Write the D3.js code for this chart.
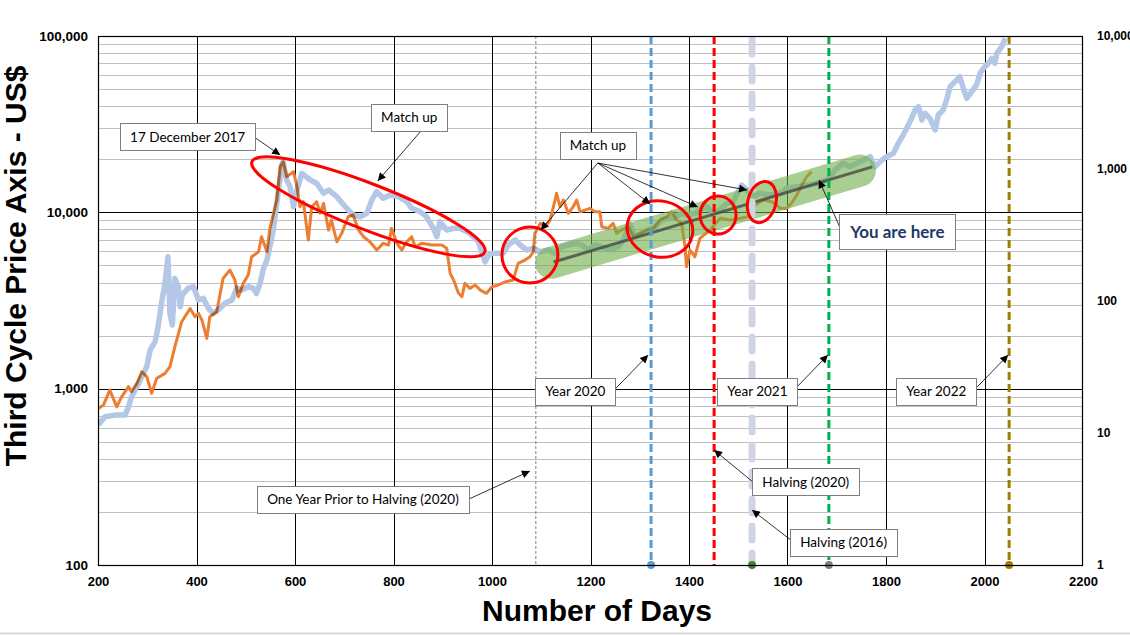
<!DOCTYPE html>
<html><head><meta charset="utf-8">
<script src="https://cdn.jsdelivr.net/npm/d3@7"></script>
<style>body{margin:0;background:#fff;overflow:hidden}</style>
</head><body><svg id="c" width="1130" height="635"></svg>
<script>
// ---------------- DATA ----------------
const xTickValues = [200,400,600,800,1000,1200,1400,1600,1800,2000,2200];
const leftTickValues = [100,1000,10000,100000];
const rightTickValues = [1,10,100,1000,10000];

// Third cycle (left axis, US$)
const thirdCycleDays = [201,211,224,238,248,262,268,279,289,299,309,319,336,346,356,370,387,397,404,411,421,427,441,454,468,478,485,495,505,512,526,532,543,549,563,570,576,583,597,604,610,617,627,634,644,651,658,668,674,685,695,708,718,729,739,752,766,779,790,796,807,817,827,837,844,857,878,898,908,915,922,932,939,945,955,966,976,989,1000,1013,1026,1043,1053,1067,1077,1084,1087,1098,1108,1118,1128,1131,1138,1145,1155,1165,1172,1179,1189,1199,1209,1219,1223,1236,1246,1253,1263,1277,1287,1301,1314,1328,1341,1355,1365,1375,1385,1392,1395,1402,1412,1422,1443,1463,1483,1504,1520,1534,1551,1568,1578,1585,1598,1608,1619,1629,1639,1649];
const thirdCyclePrices = [773,807,982,789,899,1026,960,1072,1247,1168,940,1143,1221,1331,1728,2397,2851,2557,2673,2449,1929,2557,2730,4223,4707,4130,3321,3955,4407,5600,5979,7274,5979,8110,11740,18140,19360,15920,16990,13970,10760,11490,6960,10760,11490,9870,11250,7940,9040,6810,7600,9440,9660,7940,7274,6810,6110,6670,6530,8110,6670,6110,6810,7274,6380,6670,6530,6530,6250,4510,4130,3474,3321,3955,3706,3871,3624,3474,3784,3871,4027,4130,5140,5360,5600,5979,7600,8660,8290,9040,11740,12820,10760,11740,9870,10760,11740,10070,10300,10530,10070,10070,8290,8110,8660,7600,7940,8290,7274,7600,7940,8110,9040,9440,10070,9040,8660,6380,4910,6110,5600,7120,7940,9250,9040,9250,9440,11000,11740,11490,11000,10530,10530,11250,12530,14290,15920,16990];

// Second cycle (right axis, US$)
const secondCycleDays = [201,214,235,255,262,268,279,289,299,306,316,322,329,336,342,346,351,356,363,367,371,383,394,404,414,424,434,444,458,472,482,492,505,515,522,529,536,543,549,556,563,570,573,576,583,590,597,604,614,631,644,658,668,685,702,718,732,746,756,766,779,793,810,827,837,854,867,881,888,894,908,922,935,955,972,986,993,1003,1023,1033,1047,1057,1071,1084,1098,1114,1128,1142,1155,1169,1182,1196,1209,1223,1240,1257,1267,1280,1290,1304,1317,1331,1345,1358,1372,1385,1399,1412,1422,1436,1449,1463,1477,1490,1500,1507,1517,1531,1544,1565,1585,1598,1619,1639,1659,1680,1700,1713,1727,1741,1754,1768,1778,1788,1801,1815,1825,1835,1842,1852,1859,1866,1873,1879,1889,1900,1906,1916,1923,1930,1940,1950,1957,1964,1974,1984,1991,1998,2008,2015,2021,2025,2035,2042];
const secondCyclePrices = [11.5,13.2,13.6,13.6,15.7,18.7,22.3,26.5,31.6,42.3,48.8,63.4,95.3,135,214,80,65.3,147,127,89.8,110,124,127,101,104,87.3,80,84.8,95.3,101,124,120,127,124,113,135,175,202,255,341,543,863,1059,1121,815,726,512,685,916,815,770,647,685,610,512,443,430,456,576,665,593,628,610,559,498,470,430,352,304,395,341,352,352,322,279,196,221,228,228,263,287,263,241,248,234,241,228,255,263,271,263,241,263,255,241,255,287,380,304,322,341,361,406,418,430,456,443,456,483,512,456,483,543,559,665,746,685,610,647,628,647,705,726,746,770,815,1000,1090,1028,1090,1154,1223,1028,1121,1223,1297,1545,1783,2005,2386,2757,2920,2317,2604,2386,1946,2528,2757,3283,4137,4510,4920,4027,3380,3793,4262,5224,5700,6220,6780,6220,7400,8300,9610];

// Trend (left axis)
const trendDays = [1125,1772];
const trendPrices = [5224,18100];
const bandDays = [1120,1747];
const bandPrices = [5173,17240];

// Vertical event lines
const eventDays = [1089,1323,1451,1528,1684,2050];
const eventKinds = ["prior","y2020","halv2020","halv2016","y2021","y2022"];

// Callouts: label, box centre [day, left-axis value], arrows [[fromDay,fromVal,toDay,toVal],...]
const calloutLabels = ["17 December 2017","Match up","Match up","You are here","Year 2020","Year 2021","Year 2022","Halving (2020)","Halving (2016)","One Year Prior to Halving (2020)"];
const calloutCentres = [[382,26840],[832,34490],[1215,24090],[1823,7782],[1169,965],[1539,965],[1902,965],[1637,296.5],[1714,134],[738,235]];
const calloutArrows = [
  [[517,26740,570,21130]],
  [[854,28540,768,15050]],
  [[1215,19040,1099,7935],[1215,19040,1321,11150],[1215,19040,1418,10720],[1215,19040,1518,13380]],
  [[1707,8147,1664,15250]],
  [[1246,969,1317,1551]],
  [[1611,969,1682,1551]],
  [[1977,969,2048,1551]],
  [[1530,295.3,1451,448.5]],
  [[1607,138.4,1528,204.9]],
  [[953,236.5,1077,341]]
];
// Highlight ellipses: centre [day, left-axis value]
const ellipseCentres = [[749,10745],[1077,5725],[1341,8040],[1459,9654],[1548,11440]];

// ---------------- CHART ----------------
const svg = d3.select("#c");
const M = {l:98, r:1083, t:36, b:565};
const x = d3.scaleLinear().domain([200,2200]).range([M.l,M.r]);
const yL = d3.scaleLog().domain([100,100000]).range([M.b,M.t]);
const yR = d3.scaleLog().domain([1,10000]).range([M.b,M.t]);
const crisp = v => Math.round(v)+0.5;

svg.append("defs").html(`
 <clipPath id="plot"><rect x="${M.l}" y="${M.t}" width="${M.r-M.l}" height="${M.b-M.t}"/></clipPath>
 <marker id="ah" viewBox="0 0 10 10" refX="10" refY="5" markerWidth="9" markerHeight="8" markerUnits="userSpaceOnUse" orient="auto">
   <path d="M0,0 L10,5 L0,10 z" fill="#000"/></marker>`);

// grid
const minor = [];
[100,1000,10000].forEach(d=>{for(let k=2;k<=9;k++) minor.push(d*k);});
const grid = svg.append("g");
grid.selectAll(".mn").data(minor).join("line")
  .attr("x1",M.l).attr("x2",M.r).attr("y1",d=>crisp(yL(d))).attr("y2",d=>crisp(yL(d)))
  .attr("stroke","#bfbfbf").attr("stroke-width",1);
grid.selectAll(".mj").data([1000,10000]).join("line")
  .attr("x1",M.l).attr("x2",M.r).attr("y1",d=>crisp(yL(d))).attr("y2",d=>crisp(yL(d)))
  .attr("stroke","#000").attr("stroke-width",1);
grid.selectAll(".vx").data(xTickValues.slice(1,-1)).join("line")
  .attr("x1",d=>crisp(x(d))).attr("x2",d=>crisp(x(d))).attr("y1",M.t).attr("y2",M.b)
  .attr("stroke","#000").attr("stroke-width",1);

// series
const plot = svg.append("g").attr("clip-path","url(#plot)");
const lineL = d3.line().x(d=>x(d[0])).y(d=>yL(d[1]));
const lineR = d3.line().x(d=>x(d[0])).y(d=>yR(d[1]));
plot.append("path").datum(d3.zip(thirdCycleDays,thirdCyclePrices)).attr("d",lineL)
  .attr("fill","none").attr("stroke","#ed7d31").attr("stroke-width",3).attr("stroke-linejoin","round");
plot.append("path").datum(d3.zip(secondCycleDays,secondCyclePrices)).attr("d",lineR)
  .attr("fill","none").attr("stroke","#b4c7e7").attr("stroke-width",5.5).attr("stroke-linejoin","round")
  .style("mix-blend-mode","multiply");

// band + trend
plot.append("path").datum(d3.zip(bandDays,bandPrices)).attr("d",lineL)
  .attr("fill","none").attr("stroke","#70ad47").attr("stroke-opacity",0.6).attr("stroke-width",32).attr("stroke-linecap","round");
plot.append("path").datum(d3.zip(trendDays,trendPrices)).attr("d",lineL)
  .attr("fill","none").attr("stroke","#404040").attr("stroke-opacity",0.75).attr("stroke-width",3);

// event lines
const evStyle = {
  prior:{c:"#808080",w:1,da:"3,2",dot:null},
  y2020:{c:"#5b9bd5",w:3,da:"8,4",dot:"#5b9bd5"},
  halv2020:{c:"#ff0000",w:3,da:"8,4",dot:null},
  halv2016:{c:"#d0d5e3",w:7,da:"14,13",dot:"#4e7a35",cap:"round"},
  y2021:{c:"#00b050",w:3,da:"8,4",dot:"#7f7f7f"},
  y2022:{c:"#a07d00",w:3,da:"8,4",dot:"#a07d00"}
};
const ev = svg.append("g");
eventDays.forEach((d,i)=>{
  const s = evStyle[eventKinds[i]];
  ev.append("line").attr("x1",x(d)).attr("x2",x(d)).attr("y1",s.cap?M.t+4:M.t).attr("y2",M.b)
    .attr("stroke",s.c).attr("stroke-width",s.w).attr("stroke-dasharray",s.da)
    .attr("stroke-linecap",s.cap||"butt");
});

// frame
svg.append("rect").attr("x",M.l+0.5).attr("y",M.t+0.5).attr("width",M.r-M.l-1).attr("height",M.b-M.t)
  .attr("fill","none").attr("stroke","#000").attr("stroke-width",1.2);

eventDays.forEach((d,i)=>{
  const s = evStyle[eventKinds[i]];
  if(s.dot) ev.append("circle").attr("cx",x(d)).attr("cy",M.b).attr("r",4).attr("fill",s.dot);
});

// ellipses
const ellSpec = [{rx:124.9,ry:22.9,rot:21.2},{rx:28,ry:28,rot:0},{rx:33,ry:28,rot:12},{rx:18,ry:19,rot:0},{rx:14,ry:21,rot:15}];
ellipseCentres.forEach((c,i)=>{
  const cx=x(c[0]), cy=yL(c[1]), s=ellSpec[i];
  svg.append("ellipse").attr("cx",0).attr("cy",0).attr("rx",s.rx).attr("ry",s.ry)
    .attr("transform",`translate(${cx},${cy}) rotate(${s.rot})`)
    .attr("fill","none").attr("stroke","#ff0000").attr("stroke-width",3);
});

// axes
const fontAx = "'Liberation Sans', Arial, sans-serif";
const ax = svg.append("g").attr("transform",`translate(0,${M.b})`)
  .call(d3.axisBottom(x).tickValues(xTickValues).tickFormat(d3.format("d")).tickSize(0).tickPadding(12));
const ay = svg.append("g").attr("transform",`translate(${M.l},0)`)
  .call(d3.axisLeft(yL).tickValues(leftTickValues).tickFormat(d3.format(",")).tickSize(0).tickPadding(10));
const ar = svg.append("g").attr("transform",`translate(${M.r},0)`)
  .call(d3.axisRight(yR).tickValues(rightTickValues).tickFormat(d3.format(",")).tickSize(0).tickPadding(14));
[ax,ay,ar].forEach(g=>{g.select(".domain").remove();
  g.selectAll("text").attr("fill","#000").style("font-family",fontAx).style("font-weight","bold");});
ax.selectAll("text").style("font-size","13px");
ay.selectAll("text").style("font-size","13.5px");
ar.selectAll("text").style("font-size","12px");

svg.append("text").attr("x",597).attr("y",621).attr("text-anchor","middle")
  .style("font-family",fontAx).style("font-weight","bold").style("font-size","30px").text("Number of Days");
svg.append("text").attr("transform","translate(26,266) rotate(-90)").attr("text-anchor","middle")
  .style("font-family",fontAx).style("font-weight","bold").style("font-size","30px").text("Third Cycle Price Axis - US$");

// callouts
const cg = svg.append("g");
calloutArrows.forEach(list=>list.forEach(a=>{
  cg.append("line").attr("x1",x(a[0])).attr("y1",yL(a[1])).attr("x2",x(a[2])).attr("y2",yL(a[3]))
    .attr("stroke","#000").attr("stroke-width",0.8).attr("marker-end","url(#ah)");
}));
calloutLabels.forEach((t,i)=>{
  const big = t==="You are here";
  const cx = x(calloutCentres[i][0]), cy = yL(calloutCentres[i][1]);
  const g = cg.append("g");
  const rect = g.append("rect");
  const tx = g.append("text").attr("x",cx).attr("y",cy).attr("text-anchor","middle").attr("dy","0.36em")
    .style("font-family","Lato, 'Open Sans', sans-serif")
    .style("font-size",big?"17px":"13.5px").style("font-weight",big?"bold":"normal")
    .attr("fill",big?"#1f3864":"#000").text(t);
  const w = tx.node().getComputedTextLength();
  const pw = big?11:10, h = big?35:27;
  rect.attr("x",Math.round(cx-w/2-pw)+0.5).attr("y",Math.round(cy-h/2)+0.5).attr("width",Math.round(w+2*pw)).attr("height",h)
    .attr("fill","#fff").attr("stroke","#7f7f7f").attr("stroke-width",1);
});

// figure bottom border
svg.append("line").attr("x1",0).attr("x2",1130).attr("y1",633.5).attr("y2",633.5).attr("stroke","#d9d9d9").attr("stroke-width",2);
</script></body></html>
